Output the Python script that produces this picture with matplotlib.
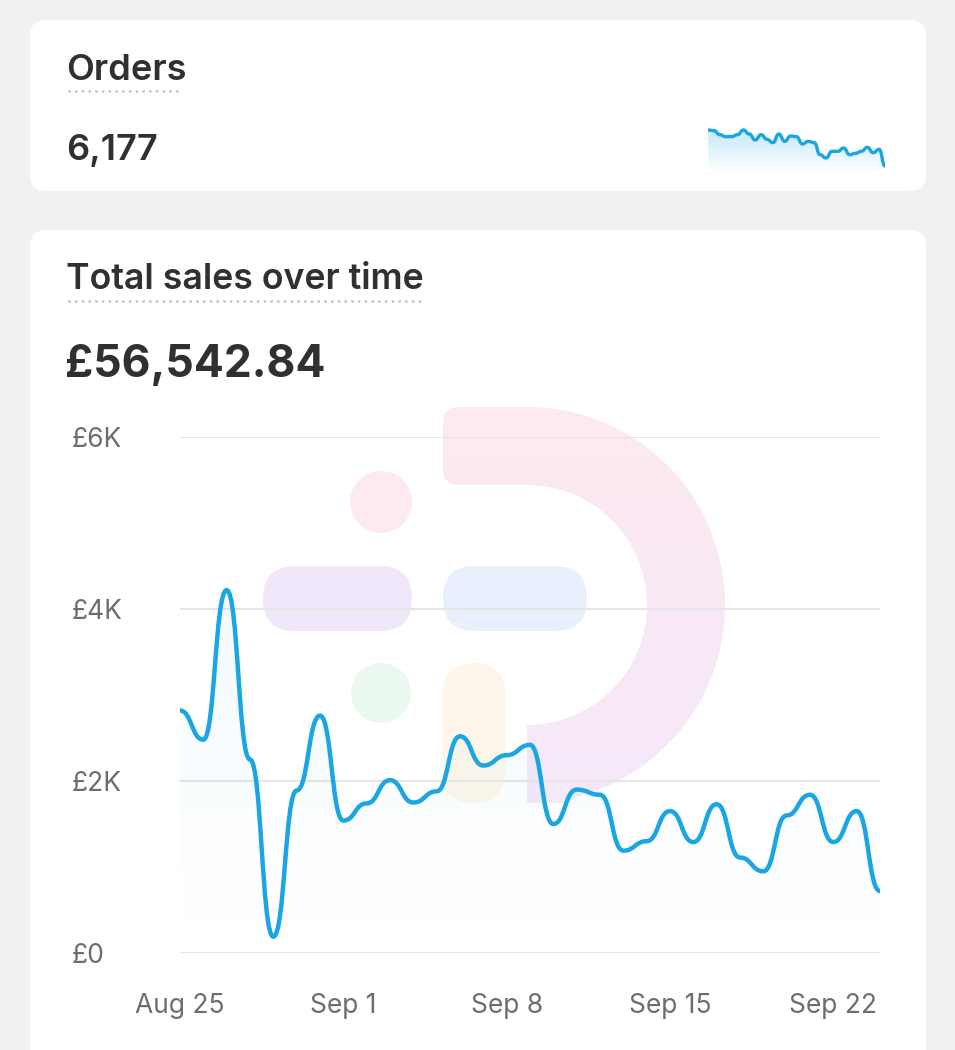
import numpy as np
import pandas as pd
import matplotlib
matplotlib.use('Agg')
import matplotlib.pyplot as plt
from matplotlib.path import Path
from matplotlib.patches import PathPatch, FancyBboxPatch, Circle, Wedge
import matplotlib.dates as mdates

plt.rcParams['font.family'] = ['Inter', 'DejaVu Sans']

# daily data, Aug 25 - Sep 24
dates = pd.date_range('2024-08-25', '2024-09-24', freq='D')
sales = [2820, 2480, 4220, 2250, 190, 1890, 2760, 1540, 1740, 2010,
         1750, 1880, 2520, 2180, 2300, 2420, 1500, 1900, 1840, 1190,
         1300, 1650, 1290, 1730, 1110, 950, 1600, 1840, 1290, 1650, 720]
orders = [219, 218, 212, 209, 209, 212, 219, 213, 204, 212,
          205, 200, 213, 202, 210, 209, 198, 202, 200, 182,
          177, 187, 187, 192, 182, 184, 187, 193, 185, 190, 165]
total_orders = '6,177'
total_sales = '£56,542.84'
y_ticks = [0, 2000, 4000, 6000]
y_labels = ['£0', '£2K', '£4K', '£6K']
x_ticks = pd.to_datetime(['2024-08-25', '2024-09-01', '2024-09-08', '2024-09-15', '2024-09-22'])
x_labels = ['Aug 25', 'Sep 1', 'Sep 8', 'Sep 15', 'Sep 22']

W, H = 955, 1050
BLUE = '#1aa6e2'
DARK = '#303030'
GREY = '#6d6d6d'

fig = plt.figure(figsize=(W / 100, H / 100), dpi=100)
fig.patch.set_facecolor('#f1f1f1')


def px_axes(l, t, r, b):
    return fig.add_axes([l / W, 1 - b / H, (r - l) / W, (b - t) / H])


def bump(x, y):
    # flat tangent at each point (like d3 curveBumpX)
    verts = [(x[0], y[0])]
    codes = [Path.MOVETO]
    for i in range(1, len(x)):
        xm = (x[i - 1] + x[i]) / 2
        verts += [(xm, y[i - 1]), (xm, y[i]), (x[i], y[i])]
        codes += [Path.CURVE4] * 3
    return verts, codes


def curve(ax, x, y, y0, lw, fill_alpha):
    verts, codes = bump(x, y)
    area = PathPatch(Path(verts + [(x[-1], y0), (x[0], y0), (x[0], y0)],
                          codes + [Path.LINETO, Path.LINETO, Path.CLOSEPOLY]),
                     fc='none', ec='none')
    ax.add_patch(area)
    grad = np.zeros((256, 1, 4))
    grad[..., :3] = matplotlib.colors.to_rgb(BLUE)
    grad[:, 0, 3] = np.linspace(fill_alpha, 0, 256)
    img = ax.imshow(grad, extent=(x[0], x[-1], y0, max(y)), aspect='auto',
                    origin='upper', zorder=2, interpolation='bilinear')
    img.set_clip_path(area)
    ax.add_patch(PathPatch(Path(verts, codes), fill=False, ec=BLUE, lw=lw,
                           capstyle='round', joinstyle='round', zorder=3))


# background: cards, watermark, headings (pixel coords)
bg = fig.add_axes([0, 0, 1, 1])
bg.set_xlim(0, W)
bg.set_ylim(H, 0)
bg.axis('off')

for (x0, y0, w, h) in [(30, 20, 896, 171), (30, 230, 896, 860)]:
    bg.add_patch(FancyBboxPatch((x0, y0), w, h, boxstyle='round,pad=0,rounding_size=16',
                                fc='white', ec='none'))

# faint logo watermark
grad_d = np.zeros((256, 1, 3))
grad_d[:, 0, :] = np.linspace(matplotlib.colors.to_rgb('#fdeaf1'),
                              matplotlib.colors.to_rgb('#f5e8f9'), 256)
for shape in [FancyBboxPatch((443, 407), 100, 78, boxstyle='round,pad=0,rounding_size=16', fc='none', ec='none'),
              Wedge((527, 605), 198, -90, 90, width=78, fc='none', ec='none'),
              FancyBboxPatch((537, 725), 40, 78, boxstyle='round,pad=0,rounding_size=16', fc='none', ec='none')]:
    bg.add_patch(shape)
    im = bg.imshow(grad_d, extent=(440, 730, 805, 405), aspect='auto', zorder=1)
    im.set_clip_path(shape)
bg.set_xlim(0, W)
bg.set_ylim(H, 0)
bg.add_patch(Circle((381, 502), 31, fc='#fdeaf0', ec='none', zorder=1))
bg.add_patch(Circle((381, 693), 30, fc='#eaf8ef', ec='none', zorder=1))
bg.add_patch(FancyBboxPatch((263, 566), 149, 65, boxstyle='round,pad=0,rounding_size=32', fc='#f0e7fb', ec='none', zorder=1))
bg.add_patch(FancyBboxPatch((443, 566), 144, 65, boxstyle='round,pad=0,rounding_size=32', fc='#e8f0fd', ec='none', zorder=1))
bg.add_patch(FancyBboxPatch((443, 663), 62, 140, boxstyle='round,pad=0,rounding_size=31', fc='#fef6ea', ec='none', zorder=1))

bg.text(66, 80, 'Orders', fontsize=26, fontweight='semibold', color=DARK, va='baseline')
bg.plot([69, 183], [91, 91], color='#c4c4c4', lw=2.1, ls=(0, (0.01, 2.3)), dash_capstyle='round')
bg.text(66, 160, total_orders, fontsize=26, fontweight='semibold', color=DARK, va='baseline')

bg.text(66, 289, 'Total sales over time', fontsize=25.7, fontweight='semibold', color=DARK, va='baseline')
bg.plot([69, 421], [301, 301], color='#c4c4c4', lw=2.1, ls=(0, (0.01, 2.3)), dash_capstyle='round')
bg.text(65, 377, total_sales, fontsize=32, fontweight='bold', color=DARK, va='baseline')

# sparkline
xd = mdates.date2num(dates)
sp = px_axes(708, 125, 885, 172)
sp.patch.set_alpha(0)
curve(sp, xd, orders, 156, 2.4, 0.25)
sp.set_xlim(xd[0], xd[-1])
sp.set_ylim(156, 226.5)
sp.axis('off')

# main chart
ax = px_axes(180, 437, 880, 953)
ax.patch.set_alpha(0)
curve(ax, xd, sales, 0, 3.2, 0.05)
ax.set_xlim(xd[0], xd[-1])
ax.set_ylim(0, 6000)
ax.set_yticks(y_ticks)
ax.set_yticklabels(y_labels)
ax.set_xticks(mdates.date2num(x_ticks))
ax.set_xticklabels(x_labels)
ax.grid(axis='y', color='#e6e6e6', lw=1.4, zorder=0)
ax.set_axisbelow(True)
for s in ax.spines.values():
    s.set_visible(False)
ax.tick_params(axis='y', length=0, pad=78, labelsize=19, labelcolor=GREY)
ax.tick_params(axis='x', length=0, pad=29, labelsize=19, labelcolor=GREY)
for lab in ax.get_yticklabels():
    lab.set_ha('left')

fig.savefig('out.png', dpi=100, facecolor=fig.get_facecolor())
